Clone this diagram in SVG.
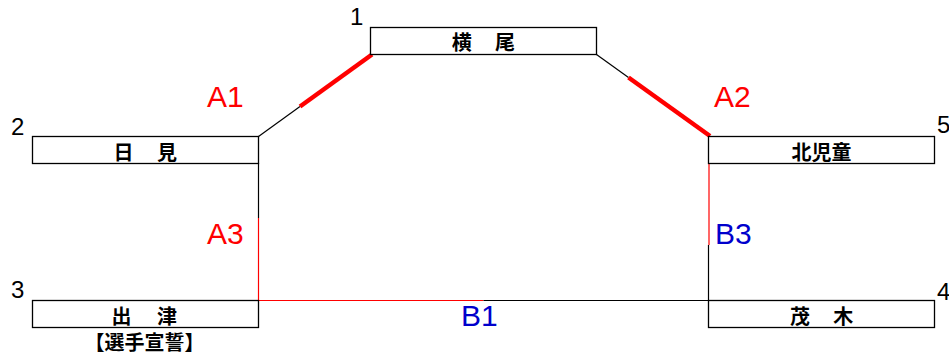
<svg xmlns="http://www.w3.org/2000/svg" width="949" height="355" viewBox="0 0 949 355">
<style>
.box{fill:#fff;stroke:#000;stroke-width:1.3}
.jp{font-family:"Noto Sans CJK JP","Noto Sans CJK SC",sans-serif;font-size:20px;font-weight:bold;fill:#000;text-anchor:middle;dominant-baseline:central}
.num{font-family:"Liberation Sans",Arial,sans-serif;font-size:24px;fill:#000}
.lbl{font-family:"Liberation Sans",Arial,sans-serif;font-size:30px}
.red{fill:#ff0000}
.blue{fill:#0000cc}
.k{stroke:#000;stroke-width:1.2;fill:none}
.r{stroke:#ff0000;stroke-width:1.2;fill:none}
.rt{stroke:#ff0000;stroke-width:4.5;fill:none}
</style>
<g id="connectors">
<line class="k" x1="258.5" y1="136.5" x2="300" y2="106.5"/>
<line class="rt" x1="300" y1="106.5" x2="372" y2="54.5"/>
<line class="k" x1="596.5" y1="54.5" x2="628.5" y2="77.5"/>
<line class="rt" x1="628.5" y1="77.5" x2="710" y2="136"/>
<line class="k" x1="258.5" y1="163" x2="258.5" y2="218"/>
<line class="r" x1="258.5" y1="218" x2="258.5" y2="300.5"/>
<line class="r" x1="258.5" y1="300.5" x2="483.5" y2="300.5"/>
<line class="k" x1="483.5" y1="300.5" x2="708.5" y2="300.5"/>
<line class="r" x1="709" y1="163" x2="709" y2="245"/>
<line class="k" x1="708.5" y1="245" x2="708.5" y2="300.5"/>
<text class="lbl red" x="207" y="107">A1</text>
<text class="lbl red" x="714" y="107">A2</text>
<text class="lbl red" x="207" y="244">A3</text>
<text class="lbl blue" x="715" y="244">B3</text>
<text class="lbl blue" x="461" y="325.5">B1</text>
</g>
<g id="node1">
<rect class="box" x="370.5" y="27.5" width="226" height="27"/>
<text class="jp" x="461.7" y="41.5">横</text>
<text class="jp" x="505" y="41.5">尾</text>
<text class="num" x="350" y="25">1</text>
</g>
<g id="node2">
<rect class="box" x="32.5" y="136.5" width="226" height="27"/>
<text class="jp" x="123.5" y="151">日</text>
<text class="jp" x="167" y="151">見</text>
<text class="num" x="11" y="135">2</text>
</g>
<g id="node3">
<rect class="box" x="32.5" y="300.5" width="226" height="27"/>
<text class="jp" x="121.5" y="315">出</text>
<text class="jp" x="167" y="315">津</text>
<text class="num" x="11" y="298">3</text>
<text class="jp" x="144.5" y="341.5">【選手宣誓】</text>
</g>
<g id="node4">
<rect class="box" x="708.5" y="300.5" width="226" height="27"/>
<text class="jp" x="800" y="315">茂</text>
<text class="jp" x="843.3" y="315">木</text>
<text class="num" x="937" y="300">4</text>
</g>
<g id="node5">
<rect class="box" x="708.5" y="136.5" width="226" height="27"/>
<text class="jp" x="821.5" y="151">北児童</text>
<text class="num" x="937" y="133">5</text>
</g>
</svg>
